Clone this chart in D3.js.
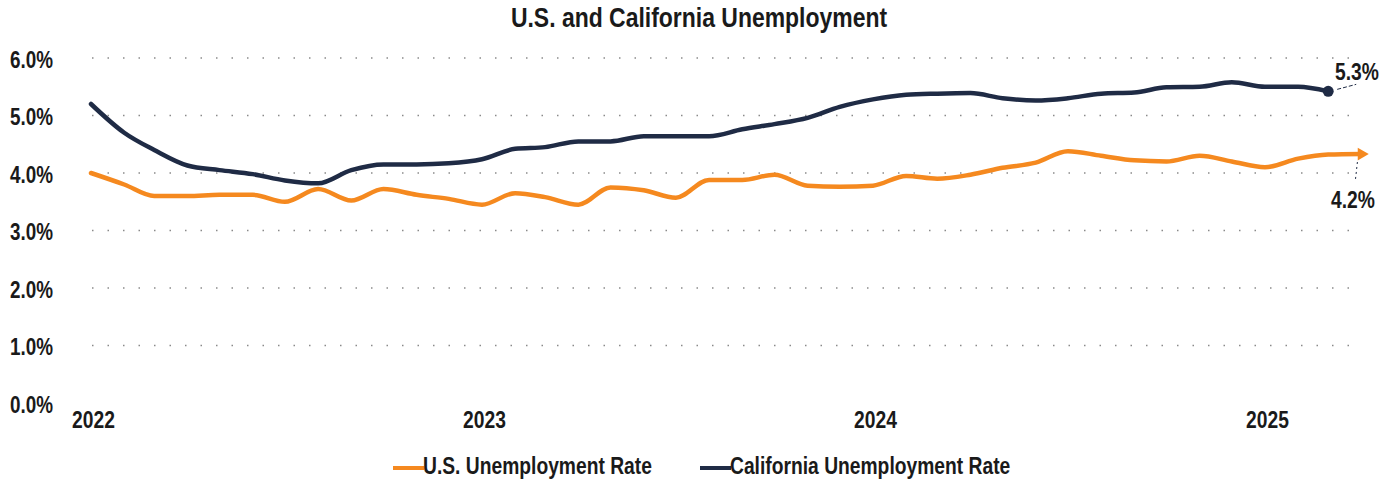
<!DOCTYPE html>
<html>
<head>
<meta charset="utf-8">
<script src="https://cdn.jsdelivr.net/npm/d3@7"></script>
<style>
  html, body { margin: 0; padding: 0; background: #fff; }
  svg text { font-family: 'Liberation Sans', Arial, sans-serif; font-weight: bold; fill: #1a1a1a; }
</style>
</head>
<body>
<svg id="chart" width="1398" height="482"></svg>
<script>
const title = "U.S. and California Unemployment";
const startYear = 2022, startMonth = 0;
const usRate = [4.0, 3.8, 3.6, 3.6, 3.62, 3.62, 3.5, 3.72, 3.52, 3.72, 3.62, 3.55,
                3.45, 3.65, 3.58, 3.45, 3.75, 3.7, 3.57, 3.88, 3.88, 3.97, 3.78, 3.76,
                3.78, 3.95, 3.9, 3.97, 4.09, 4.18, 4.38, 4.3, 4.22, 4.2, 4.3, 4.2,
                4.1, 4.25, 4.32, 4.33];
const caRate = [5.2, 4.7, 4.4, 4.13, 4.05, 3.98, 3.87, 3.82, 4.05, 4.15, 4.15, 4.17,
                4.24, 4.42, 4.45, 4.55, 4.55, 4.64, 4.64, 4.64, 4.76, 4.85, 4.96, 5.15,
                5.28, 5.36, 5.38, 5.39, 5.3, 5.26, 5.3, 5.38, 5.4, 5.49, 5.5, 5.58,
                5.5, 5.5, 5.42];
const yTicks = [0, 1, 2, 3, 4, 5, 6];
const xTickYears = [2022, 2023, 2024, 2025];
const seriesNames = ["U.S. Unemployment Rate", "California Unemployment Rate"];
const endLabels = ["4.2%", "5.3%"];
const colors = { us: "#f5891f", ca: "#1f2b45" };

const NARROW = "scale(0.82,1)";
const svg = d3.select("#chart");

const toDate = i => new Date(startYear, startMonth + i, 1);
const x = d3.scaleTime()
  .domain([new Date(2022, 0, 1), new Date(2025, 0, 1)])
  .range([91, 1265]);
const y = d3.scaleLinear().domain([0, 6]).range([403, 58]);

function narrowText(sel, px, py, txt, size, anchor) {
  return sel.append("text")
    .attr("transform", `translate(${px},${py}) ${NARROW}`)
    .attr("text-anchor", anchor || "start")
    .style("font-size", size + "px")
    .text(txt);
}

// title
narrowText(svg, 699, 27, title, 28, "middle");

// gridlines
svg.append("g").selectAll("line").data(yTicks.filter(d => d > 0)).join("line")
  .attr("x1", 92).attr("x2", 1362)
  .attr("y1", d => y(d)).attr("y2", d => y(d))
  .attr("stroke", "#8a8a8a").attr("stroke-width", 1.3)
  .attr("stroke-dasharray", "1.5,14");

// y axis
const yAxis = d3.axisLeft(y).tickValues(yTicks).tickFormat(d => d3.format(".1f")(d) + "%").tickSize(0).tickPadding(0);
const gy = svg.append("g").attr("transform", "translate(53,1)").call(yAxis);
gy.select(".domain").remove();
gy.selectAll("text").style("font-size", "23px").attr("dy", "0.36em")
  .attr("fill", "#1a1a1a").attr("transform", NARROW);

// x axis
const xAxis = d3.axisBottom(x).tickValues(xTickYears.map(yr => new Date(yr, 0, 1)))
  .tickFormat(d3.timeFormat("%Y")).tickSize(0).tickPadding(0);
const gx = svg.append("g").attr("transform", "translate(2,428)").call(xAxis);
gx.select(".domain").remove();
gx.selectAll("text").style("font-size", "23.5px").attr("dy", 0).attr("y", 0)
  .attr("fill", "#1a1a1a").attr("transform", NARROW);

// lines
const line = d3.line().x((d, i) => x(toDate(i))).y(d => y(d)).curve(d3.curveMonotoneX);
svg.append("path").datum(usRate).attr("d", line).attr("fill", "none")
  .attr("stroke", colors.us).attr("stroke-width", 4.5).attr("stroke-linejoin", "round").attr("stroke-linecap", "round");
svg.append("path").datum(caRate).attr("d", line).attr("fill", "none")
  .attr("stroke", colors.ca).attr("stroke-width", 4.5).attr("stroke-linejoin", "round").attr("stroke-linecap", "round");

// end markers
const caLast = caRate.length - 1, usLast = usRate.length - 1;
const cax = x(toDate(caLast)), cay = y(caRate[caLast]);
const usx = x(toDate(usLast)), usy = y(usRate[usLast]);
svg.append("circle").attr("cx", cax).attr("cy", cay).attr("r", 5.5).attr("fill", colors.ca);
svg.append("path").attr("d", d3.symbol(d3.symbolTriangle, 70)())
  .attr("transform", `translate(${usx},${usy}) rotate(90)`).attr("fill", colors.us);

// leaders + end labels
svg.append("line").attr("x1", cax + 9).attr("y1", cay - 2).attr("x2", cax + 28).attr("y2", cay - 7)
  .attr("stroke", colors.ca).attr("stroke-width", 1).attr("stroke-dasharray", "4,2");
narrowText(svg, 1357, 80, endLabels[1], 23.5, "middle");
svg.append("line").attr("x1", usx - 4).attr("y1", usy + 8).attr("x2", usx - 6).attr("y2", usy + 26)
  .attr("stroke", colors.ca).attr("stroke-width", 1).attr("stroke-dasharray", "2,3");
narrowText(svg, 1353, 208, endLabels[0], 23.5, "middle");

// legend
const legend = [
  { name: seriesNames[0], color: colors.us, x: 393 },
  { name: seriesNames[1], color: colors.ca, x: 700 }
];
const lg = svg.append("g").selectAll("g").data(legend).join("g")
  .attr("transform", d => `translate(${d.x},468)`);
lg.append("line").attr("x1", 0).attr("x2", 31).attr("y1", 0).attr("y2", 0)
  .attr("stroke", d => d.color).attr("stroke-width", 4);
lg.append("text").attr("transform", `translate(30,6) ${NARROW}`)
  .style("font-size", "23.5px").text(d => d.name);
</script>
</body>
</html>
